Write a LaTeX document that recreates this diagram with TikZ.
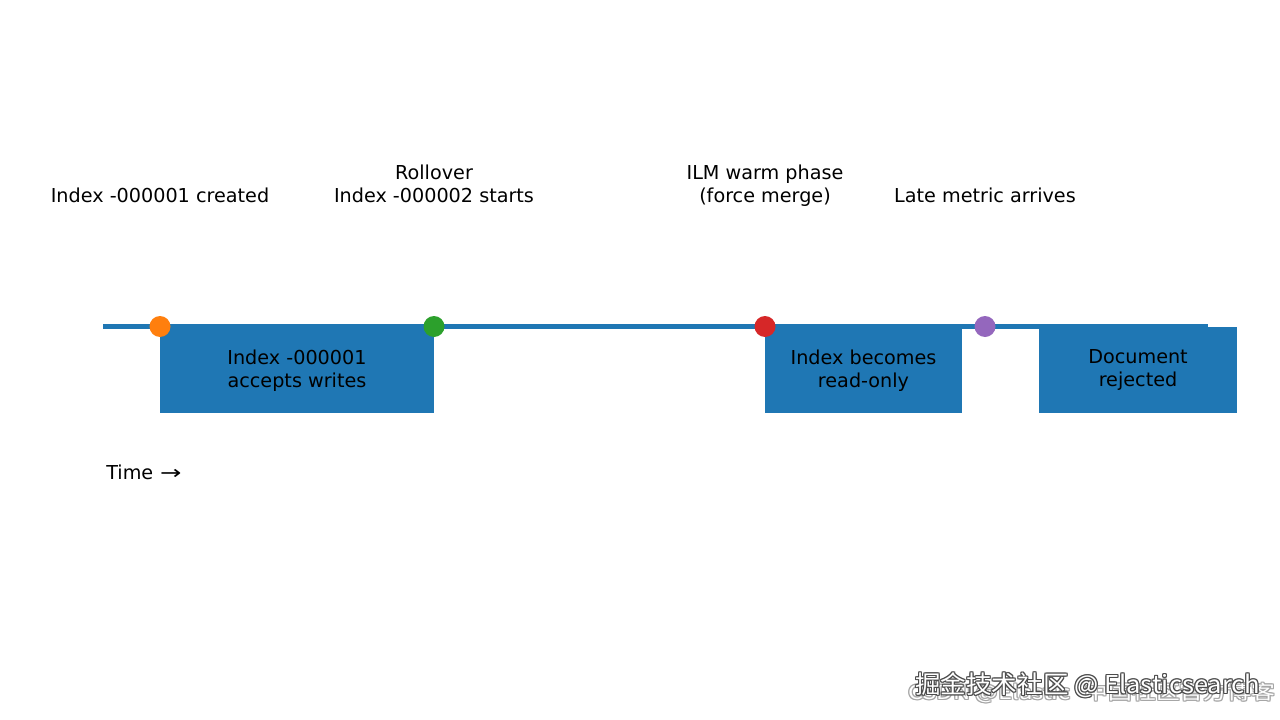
\documentclass[tikz,border=0pt]{standalone}
\usepackage{fontspec}
\setmainfont{DejaVu Sans}
\newfontfamily\cjk{Noto Sans CJK SC}
\definecolor{mplblue}{HTML}{1F77B4}
\definecolor{mplorange}{HTML}{FF7F0E}
\definecolor{mplgreen}{HTML}{2CA02C}
\definecolor{mplred}{HTML}{D62728}
\definecolor{mplpurple}{HTML}{9467BD}
\newcommand{\wmtextA}{\resizebox{258.75pt}{\height}{掘金技术社区 @ Elasticsearch}}
\newcommand{\wmtextB}{\resizebox{275pt}{\height}{CSDN @Elastic\hspace{0.6em}中国社区官方博客}}
\newcommand{\lowered}[1]{\raisebox{-1.5pt}[\height][\depth]{#1}}
\begin{document}
\begin{tikzpicture}[x=0.75pt,y=-0.75pt,
  txt/.style={font=\fontsize{14.4}{17.3}\selectfont, align=center, inner sep=0pt, text=black},
  blk/.style={txt, fill=mplblue, draw=none, minimum height=66.75pt},
  dot/.style={circle, inner sep=0pt, minimum size=15.75pt, draw=none},
  wmA/.style={font=\cjk\fontsize{18.4}{18.4}\selectfont, inner sep=0pt, anchor=base west},
  wmB/.style={font=\cjk\fontsize{14.5}{14.5}\selectfont, inner sep=0pt, anchor=base west},
]
\useasboundingbox[fill=white] (0,0) rectangle (1280,720);

% timeline
\coordinate (tstart) at (103,326.5);
\coordinate (tend) at (1208,326.5);
\draw[mplblue, line width=3.75pt] (tstart) -- (tend);

% phase boxes
\node[blk, minimum width=205.5pt] (b1) at (297,368.5) {\lowered{Index -000001}\\\lowered{accepts writes}};
\node[blk, minimum width=147.75pt] (b2) at (863.5,368.5) {\lowered{Index becomes}\\\lowered{read-only}};
\node[blk, minimum width=148.5pt, minimum height=64.5pt] (b3) at (1138,370) {Document\\rejected};

% events
\node[dot, fill=mplorange] (e1) at (160,326.5) {};
\node[dot, fill=mplgreen] (e2) at (434,326.5) {};
\node[dot, fill=mplred] (e3) at (765,326.5) {};
\node[dot, fill=mplpurple] (e4) at (985,326.5) {};

% event labels
\node[txt, anchor=base] (l1) at (160,203) {Index -000001 created};
\node[txt, anchor=south] (l2) at (434,203.5) {Rollover\\Index -000002 starts};
\node[txt, anchor=south] (l3) at (765,206.5) {ILM warm phase\\(force merge)};
\node[txt, anchor=base] (l4) at (985,203) {Late metric arrives};

\node[txt, anchor=base west] (time) at (106,479) {Time\hspace{0.36em}\scalebox{1.33}[1]{→}};

% watermarks
\foreach \dx/\dy in {-1/0,1/0,0/-1,0/1,-1/-1,1/1,-1/1,1/-1}{
  \node[wmB, text=black!35] at (908+\dx,699+\dy) {\wmtextB};
}
\node[wmB, text=white] (wm2) at (908,699) {\wmtextB};
\foreach \dx/\dy in {-1/0,1/0,0/-1,0/1,-1/-1,1/1,-1/1,1/-1}{
  \node[wmA, text=black!70] at (915+\dx,693+\dy) {\wmtextA};
}
\node[wmA, text=white] (wm1) at (915,693) {\wmtextA};
\end{tikzpicture}
\end{document}
